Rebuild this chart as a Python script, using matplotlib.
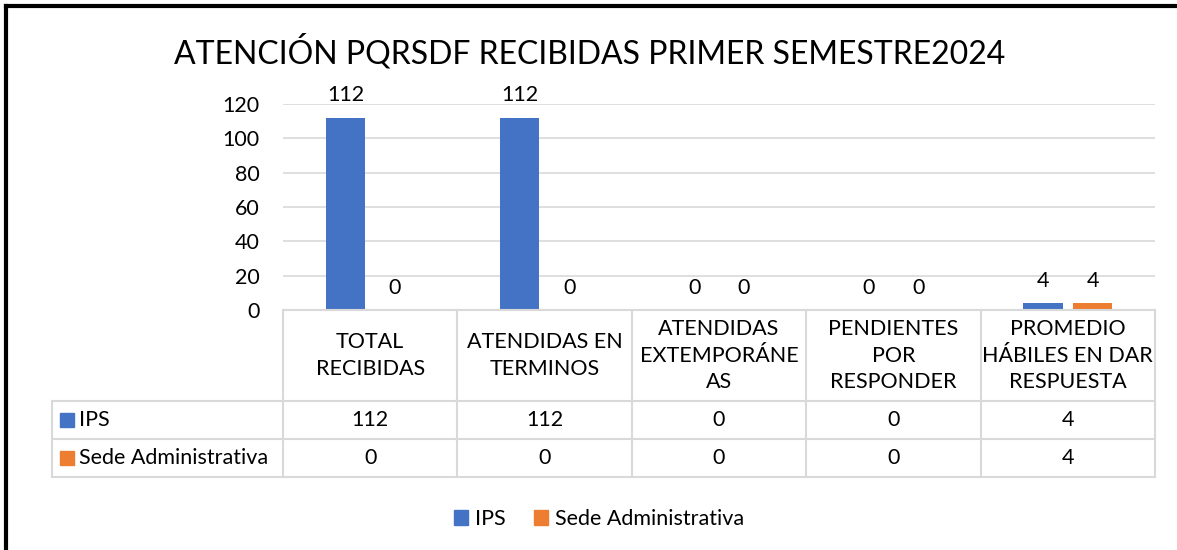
import numpy as np
import matplotlib
matplotlib.use("Agg")
import matplotlib.pyplot as plt
from matplotlib.lines import Line2D
from matplotlib.patches import Rectangle
import matplotlib.transforms as mtransforms

plt.rcParams['font.family'] = ['Lato', 'DejaVu Sans']

# -----------------------------
# DATA
# -----------------------------
title = "ATENCIÓN PQRSDF RECIBIDAS PRIMER SEMESTRE2024"
categories = ["TOTAL\nRECIBIDAS", "ATENDIDAS EN\nTERMINOS", "ATENDIDAS\nEXTEMPORÁNE\nAS",
              "PENDIENTES\nPOR\nRESPONDER", "PROMEDIO\nHÁBILES EN DAR\nRESPUESTA"]
series_names = ["IPS", "Sede Administrativa"]
ips = [112, 112, 0, 0, 4]
sede = [0, 0, 0, 0, 4]
yticks = [0, 20, 40, 60, 80, 100, 120]

colors = ["#4472C4", "#ED7D31"]
grid_c = "#D9D9D9"
W, H = 1177, 550
FS = 15.5


def fy(py):
    # pixel row (from top) -> figure fraction
    return 1 - py / H


def fx(px):
    return px / W


fig = plt.figure(figsize=(W / 100, H / 100), dpi=100)
ax = fig.add_axes([fx(283), fy(310), fx(1155) - fx(283), fy(104) - fy(310)])

x = np.arange(len(categories))
bw = 0.225
off = 0.142
all_series = [ips, sede]
for i, vals in enumerate(all_series):
    pos = x + (-off if i == 0 else off)
    ax.bar(pos, vals, width=bw, color=colors[i], zorder=3)
    for p, v in zip(pos, vals):
        ax.annotate(str(v), (p, v), xytext=(0, 9), textcoords="offset points",
                    ha="center", va="bottom", fontsize=FS, color="#000000")

ax.set_xlim(-0.5, len(categories) - 0.5)
ax.set_ylim(0, 120)
ax.set_yticks(yticks)
ax.set_xticks([])
ax.tick_params(axis="y", length=0, pad=17, labelsize=FS)
ax.yaxis.grid(True, color=grid_c, lw=1.2, zorder=0)
for s in ax.spines.values():
    s.set_visible(False)

fig.text(fx(590), fy(52), title, ha="center", va="center", fontsize=23)

# -----------------------------
# DATA TABLE
# -----------------------------
tr = mtransforms.blended_transform_factory(ax.transData, fig.transFigure)
y_top, y_head, y_r1, y_r2 = 310, 401, 439, 477
xl = len(categories) - 0.5
lw = 1.5
# horizontal lines
fig.add_artist(Line2D([-0.5, xl], [fy(y_top)] * 2, transform=tr, color=grid_c, lw=lw))
for yy in [y_head, y_r1, y_r2]:
    fig.add_artist(Line2D([fx(52), fx(283)], [fy(yy)] * 2, transform=fig.transFigure, color=grid_c, lw=lw))
    fig.add_artist(Line2D([-0.5, xl], [fy(yy)] * 2, transform=tr, color=grid_c, lw=lw))
# vertical lines
for b in np.arange(len(categories) + 1) - 0.5:
    fig.add_artist(Line2D([b, b], [fy(y_top), fy(y_r2)], transform=tr, color=grid_c, lw=lw))
fig.add_artist(Line2D([fx(52), fx(52)], [fy(y_head), fy(y_r2)], transform=fig.transFigure, color=grid_c, lw=lw))

for i, c in enumerate(categories):
    fig.text(i, fy((y_top + y_head) / 2), c, transform=tr, ha="center", va="center",
             fontsize=FS, linespacing=1.4)
    fig.text(i, fy((y_head + y_r1) / 2), str(ips[i]), transform=tr, ha="center", va="center", fontsize=FS)
    fig.text(i, fy((y_r1 + y_r2) / 2), str(sede[i]), transform=tr, ha="center", va="center", fontsize=FS)

for j, (name, rc) in enumerate(zip(series_names, [(y_head, y_r1), (y_r1, y_r2)])):
    yc = (rc[0] + rc[1]) / 2
    fig.add_artist(Rectangle((fx(60), fy(yc + 7)), fx(14), fy(0) - fy(14),
                             transform=fig.transFigure, color=colors[j]))
    fig.text(fx(79), fy(yc), name, ha="left", va="center", fontsize=FS)

# -----------------------------
# LEGEND
# -----------------------------
handles = [Rectangle((0, 0), 1, 1, color=c) for c in colors]
fig.legend(handles, series_names, loc="center", bbox_to_anchor=(fx(599), fy(519)), ncol=2,
           frameon=False, fontsize=FS, handlelength=0.65, handleheight=0.65,
           handletextpad=0.35, columnspacing=1.3)

# -----------------------------
# BORDER (top and left)
# -----------------------------
fig.add_artist(Line2D([fx(6), 1], [fy(6)] * 2, transform=fig.transFigure, color="black", lw=3))
fig.add_artist(Line2D([fx(6)] * 2, [fy(6), 0], transform=fig.transFigure, color="black", lw=3))

fig.savefig("out.png", dpi=100)
